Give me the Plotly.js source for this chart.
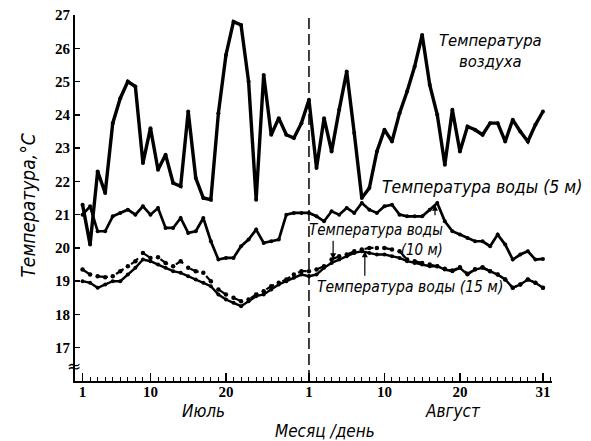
<!DOCTYPE html>
<html><head><meta charset="utf-8">
<script src="https://cdn.plot.ly/plotly-3.0.1.min.js"></script>
<style>html,body{margin:0;padding:0;background:#fff}#chart{width:591px;height:441px}</style>
</head><body><div id="chart"></div>
<script>
// day index: 1..31 = July 1..31, 32..62 = August 1..31
const days = [1,2,3,4,5,6,7,8,9,10,11,12,13,14,15,16,17,18,19,20,21,22,23,24,25,26,27,28,29,30,31,
              32,33,34,35,36,37,38,39,40,41,42,43,44,45,46,47,48,49,50,51,52,53,54,55,56,57,58,59,60,61,62];
const airTemp = [21.3,20.1,22.3,21.65,23.75,24.5,25.0,24.85,22.55,23.6,22.35,22.8,21.95,21.85,24.1,22.1,
                 21.5,21.45,24.05,25.8,26.8,26.7,25.0,21.45,25.2,23.4,23.9,23.4,23.3,23.75,24.45,
                 22.4,23.9,22.9,24.15,25.3,23.45,21.5,21.8,22.9,23.55,23.2,24.05,24.7,25.45,26.4,
                 24.9,24.0,22.5,24.15,22.9,23.65,23.55,23.4,23.75,23.75,23.2,23.85,23.5,23.2,23.7,24.1];
const water5m = [21.0,21.25,20.5,20.5,20.95,21.05,21.15,21.0,21.25,21.0,21.2,20.6,20.6,20.9,20.45,20.5,
                 20.9,20.2,19.65,19.7,19.7,20.05,20.25,20.55,20.15,20.2,20.25,21.0,21.05,21.05,21.05,
                 20.95,20.8,21.1,21.0,21.2,21.05,21.35,21.15,21.05,21.25,21.3,21.0,20.95,20.95,20.95,
                 21.15,21.35,20.8,20.5,20.4,20.3,20.2,20.2,20.05,20.4,20.1,19.65,19.8,19.9,19.65,19.67];
const water10m = [19.35,19.2,19.15,19.12,19.15,19.3,19.45,19.6,19.85,19.7,19.72,19.55,19.45,19.6,19.4,19.3,
                  19.25,19.0,18.75,18.6,18.5,18.4,18.45,18.6,18.7,18.85,18.95,19.05,19.2,19.3,19.3,
                  19.35,19.45,19.65,19.75,19.8,19.9,19.95,20.0,20.0,20.0,19.95,19.9,19.65,19.6,19.55,
                  19.5,19.45,19.37,19.32,19.42,19.22,19.36,19.42,19.3,19.2,19.05,18.8,18.9,19.05,18.95,18.8];
const water15m = [19.0,18.95,18.8,18.9,19.0,19.0,19.2,19.4,19.65,19.6,19.5,19.4,19.3,19.25,19.15,19.05,
                  18.95,18.85,18.6,18.45,18.35,18.25,18.4,18.55,18.6,18.75,18.9,19.0,19.1,19.2,19.15,
                  19.2,19.4,19.55,19.65,19.75,19.85,19.9,19.85,19.8,19.8,19.75,19.7,19.6,19.55,19.5,
                  19.45,19.45,19.35,19.3,19.4,19.2,19.35,19.4,19.3,19.2,19.05,18.8,18.9,19.05,18.95,18.8];
const xTickVals = [1,10,20,31,41,51,62];
const xTickText = ['1','10','20','1','10','20','31'];
const yTickVals = [17,18,19,20,21,22,23,24,25,26,27];
const monthDividerDay = 31;

const fontIt = 'DejaVu Sans Condensed, DejaVu Sans, sans-serif';
const fontNum = 'Liberation Serif, DejaVu Serif, serif';

function series(y, width, dash, msize) {
  return {x: days, y: y, type: 'scatter', mode: 'lines+markers',
          line: {color: '#000', width: width, dash: dash},
          marker: {color: '#000', size: msize}, hoverinfo: 'skip', showlegend: false};
}
const data = [
  series(airTemp, 3.4, 'solid', 4),
  series(water5m, 2.7, 'solid', 4),
  series(water10m, 2.2, 'dash', 4.5),
  series(water15m, 2.4, 'solid', 4)
];

const itFont = (s) => ({family: fontIt, size: s, color: '#000', style: 'italic'});
const layout = {
  width: 591, height: 441,
  margin: {l: 75, r: 39, t: 15, b: 60},
  paper_bgcolor: '#fff', plot_bgcolor: '#fff',
  showlegend: false,
  xaxis: {range: [0.0, 63.2], showline: true, linecolor: '#000', linewidth: 2,
          showgrid: false, zeroline: false,
          tickmode: 'array', tickvals: xTickVals, ticktext: xTickText,
          ticks: 'inside', ticklen: 8, tickwidth: 1.5, tickcolor: '#000',
          ticklabelstandoff: -4,
          minor: {tickmode: 'linear', tick0: 0, dtick: 1, ticks: 'inside', ticklen: 4, tickwidth: 1, tickcolor: '#000'},
          tickfont: {family: fontNum, size: 15, color: '#000', weight: 'bold'}},
  yaxis: {range: [16, 27], showline: true, linecolor: '#000', linewidth: 2,
          showgrid: false, zeroline: false,
          tickmode: 'array', tickvals: yTickVals,
          ticks: 'inside', ticklen: 5, tickwidth: 1.5, tickcolor: '#000',
          tickfont: {family: fontNum, size: 15, color: '#000', weight: 'bold'}},
  shapes: [
    {type: 'line', xref: 'x', yref: 'paper', x0: monthDividerDay, x1: monthDividerDay, y0: 0, y1: 1.005,
     line: {color: '#000', width: 1.5, dash: '11px,5px'}}
  ],
  annotations: [
    {xref: 'paper', yref: 'paper', x: -0.098, y: 0.48, text: 'Температура,°С', textangle: -90,
     showarrow: false, font: itFont(19), xanchor: 'center', yanchor: 'middle'},
    {xref: 'paper', yref: 'paper', x: 0.524, y: -0.136, text: 'Месяц /день',
     showarrow: false, font: itFont(17), xanchor: 'center', yanchor: 'middle'},
    {xref: 'x', yref: 'paper', x: 17.0, y: -0.082, text: 'Июль',
     showarrow: false, font: itFont(17), xanchor: 'center', yanchor: 'middle'},
    {xref: 'x', yref: 'paper', x: 50.1, y: -0.082, text: 'Август',
     showarrow: false, font: itFont(17), xanchor: 'center', yanchor: 'middle'},
    {xref: 'x', yref: 'y', x: 55.0, y: 25.92, text: 'Температура<br>воздуха',
     showarrow: false, font: itFont(16.5), xanchor: 'center', yanchor: 'middle'},
    {xref: 'x', yref: 'y', x: 53.9, y: 21.83, text: 'Температура воды (5 м)',
     showarrow: false, font: itFont(17.5), xanchor: 'center', yanchor: 'middle'},
    {xref: 'x', yref: 'y', x: 49.0, y: 20.24, text: 'Температура воды<br>(10 м)', align: 'right',
     showarrow: false, font: itFont(15), xanchor: 'right', yanchor: 'middle'},
    {xref: 'x', yref: 'y', x: 44.4, y: 18.82, text: 'Температура воды (15 м)',
     showarrow: false, font: itFont(15.5), xanchor: 'center', yanchor: 'middle'},
    {xref: 'paper', yref: 'y', x: -0.003, y: 16.44, text: '≈',
     showarrow: false, font: {family: 'DejaVu Sans', size: 17, color: '#000'}, xanchor: 'center', yanchor: 'middle'},
    // pointer arrows
    {xref: 'x', yref: 'y', x: 34.2, y: 19.66, ax: 0, ay: -20, text: '', showarrow: true,
     arrowhead: 2, arrowsize: 1, arrowwidth: 1.2, arrowcolor: '#000'},
    {xref: 'x', yref: 'y', x: 38.4, y: 19.9, ax: 0, ay: 26, text: '', showarrow: true,
     arrowhead: 2, arrowsize: 1, arrowwidth: 1.2, arrowcolor: '#000'},
    {xref: 'x', yref: 'y', x: 47.7, y: 21.3, ax: 0, ay: 12, text: '', showarrow: true,
     arrowhead: 2, arrowsize: 1, arrowwidth: 1.2, arrowcolor: '#000'}
  ]
};
Plotly.newPlot('chart', data, layout, {staticPlot: true, displayModeBar: false});
</script>
</body></html>
